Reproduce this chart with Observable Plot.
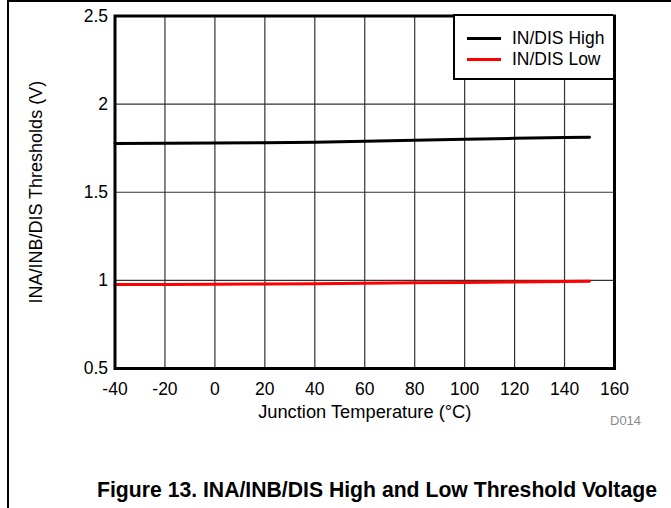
<!DOCTYPE html>
<html><head><meta charset="utf-8">
<script src="https://cdn.jsdelivr.net/npm/d3@7"></script>
<script src="https://cdn.jsdelivr.net/npm/@observablehq/plot@0.6"></script>
<style>
body{margin:0;background:#fff;font-family:Arial,"Liberation Sans",sans-serif;}
#wrap{position:relative;width:671px;height:508px;overflow:hidden;background:#fff;}
#chart{position:absolute;left:0;top:0;}
.fTop{position:absolute;left:8px;top:0px;width:663px;height:2px;background:#000;}
.fLeft{position:absolute;left:7px;top:0px;width:2px;height:508px;background:#000;}
#legend{position:absolute;left:453px;top:14px;width:158px;height:62px;border:2.5px solid #000;border-right:none;background:#fff;box-sizing:content-box;}
.item{position:absolute;left:10px;height:20px;font-size:17.5px;line-height:20px;color:#000;white-space:nowrap;}
.item .sw{position:absolute;left:2px;top:9px;width:34px;height:2.5px;}
.item .lb{position:absolute;left:47px;top:0;}
#code{position:absolute;left:610px;top:413px;font-size:13px;color:#8a8a8a;line-height:16px;}
#caption{position:absolute;left:97px;top:478px;font-size:21.2px;font-weight:bold;line-height:24px;white-space:nowrap;color:#000;}
</style></head><body>
<div id="wrap">
  <div id="chart"></div>
  <div class="fTop"></div><div class="fLeft"></div>
  <div id="legend"></div>
  <div id="code">D014</div>
  <div id="caption">Figure 13. INA/INB/DIS High and Low Threshold Voltage</div>
</div>
<script>
const temps = [-40, -20, 0, 20, 40, 60, 80, 100, 120, 140, 150];
const highV = [1.777, 1.778, 1.779, 1.781, 1.784, 1.789, 1.795, 1.801, 1.806, 1.810, 1.812];
const lowV  = [0.977, 0.977, 0.978, 0.979, 0.981, 0.983, 0.986, 0.988, 0.991, 0.993, 0.995];
const seriesNames = ["IN/DIS High", "IN/DIS Low"];
const seriesColors = ["#000000", "#ff0000"];
const xTicks = [-40, -20, 0, 20, 40, 60, 80, 100, 120, 140, 160];
const yTicks = [0.5, 1, 1.5, 2, 2.5];
const xTitle = "Junction Temperature (°C)";
const yTitle = "INA/INB/DIS Thresholds (V)";

const rows = [];
[highV, lowV].forEach((vals, s) => {
  temps.forEach((t, i) => rows.push({series: seriesNames[s], t, v: vals[i]}));
});

const chart = Plot.plot({
  width: 671,
  height: 440,
  marginLeft: 114.5,
  marginRight: 57,
  marginTop: 15.5,
  marginBottom: 72,
  style: {fontFamily: "Arial, 'Liberation Sans', sans-serif", fontSize: "17.5px", color: "#000", background: "transparent"},
  x: {domain: [-40, 160]},
  y: {domain: [0.5, 2.5]},
  color: {domain: seriesNames, range: seriesColors},
  marks: [
    Plot.gridX(xTicks, {stroke: "#333", strokeOpacity: 1, strokeWidth: 1.2}),
    Plot.gridY(yTicks, {stroke: "#333", strokeOpacity: 1, strokeWidth: 1.2}),
    Plot.axisX(xTicks, {tickSize: 0, tickPadding: 14, tickFormat: d => String(d), label: null, fontSize: 17.5}),
    Plot.axisX([], {tickSize: 0, label: xTitle, labelAnchor: "center", labelArrow: "none", labelOffset: 49, fontSize: 18.3}),
    Plot.axisY(yTicks, {tickSize: 0, tickPadding: 7, tickFormat: d => String(d), label: null, fontSize: 17.5}),
    Plot.axisY([], {tickSize: 0, label: yTitle, labelAnchor: "center", labelArrow: "none", labelOffset: 86, fontSize: 18}),
    Plot.line(rows, {x: "t", y: "v", z: "series", stroke: "series", strokeWidth: 3}),
    Plot.frame({stroke: "#000", strokeWidth: 3})
  ]
});
document.getElementById("chart").appendChild(chart);

const leg = document.getElementById("legend");
seriesNames.forEach((n, i) => {
  const d = document.createElement("div");
  d.className = "item";
  d.style.top = (12 + i * 21) + "px";
  d.innerHTML = `<span class="sw" style="background:${seriesColors[i]}"></span><span class="lb">${n}</span>`;
  leg.appendChild(d);
});
</script>
</body></html>
